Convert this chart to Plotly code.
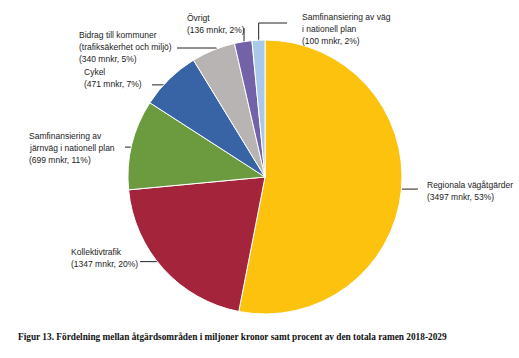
import math
import plotly.graph_objects as go

W, H = 519, 358

categories = [
    "Regionala vägåtgärder",
    "Kollektivtrafik",
    "Samfinansiering av järnväg i nationell plan",
    "Cykel",
    "Bidrag till kommuner (trafiksäkerhet och miljö)",
    "Övrigt",
    "Samfinansiering av väg i nationell plan",
]
values_mnkr = [3497, 1347, 699, 471, 340, 136, 100]
percent_labels = [53, 20, 11, 7, 5, 2, 2]
label_lines = [
    ["Regionala vägåtgärder"],
    ["Kollektivtrafik"],
    ["Samfinansiering av", "järnväg i nationell plan"],
    ["Cykel"],
    ["Bidrag till kommuner", "(trafiksäkerhet och miljö)"],
    ["Övrigt"],
    ["Samfinansiering av väg", "i nationell plan"],
]
colors = ["#FCC20E", "#A3243B", "#6C9A3E", "#3864A6", "#B8B4B4", "#7462A8", "#A9C9EA"]

cx, cy, R = 265, 177, 137

label_pos = [
    dict(x=425, y=185, path=[(418, None)]),
    dict(x=69, y=252, path=[(140, None)]),
    dict(x=27, y=136, path=[(125, None)]),
    dict(x=82, y=72, path=[(152, None)]),
    dict(x=77, y=35, path=[(None, 48), (177, 48)]),
    dict(x=185, y=18, path=[(None, 28)]),
    dict(x=300, y=17, path=[(None, 23), (287, 23)]),
]
dot_frac = [0.92, 0.92, 0.92, 0.94, 0.94, 0.96, 0.97]
LINE_H = 12

fig = go.Figure()
fig.add_trace(go.Pie(
    labels=categories,
    values=values_mnkr,
    sort=False,
    direction="clockwise",
    rotation=0,
    marker=dict(colors=colors, line=dict(color="white", width=1)),
    textinfo="none",
    hoverinfo="label+value+percent",
    showlegend=False,
    domain=dict(x=[(cx - R) / W, (cx + R) / W], y=[1 - (cy + R) / H, 1 - (cy - R) / H]),
))

total = sum(values_mnkr)
cum = 0.0
annotations = []
for i, v in enumerate(values_mnkr):
    mid = (cum + v / 2) / total
    cum += v
    ang = 2 * math.pi * mid
    r = R * dot_frac[i]
    dx = cx + r * math.sin(ang)
    dy = cy - r * math.cos(ang)
    pts = [(dx, dy)]
    px, py = dx, dy
    for (nx, ny) in label_pos[i]["path"]:
        nx = px if nx is None else nx
        ny = py if ny is None else ny
        pts.append((nx, ny))
        px, py = nx, ny
    fig.add_trace(go.Scatter(
        x=[p[0] for p in pts], y=[p[1] for p in pts], mode="lines",
        line=dict(color="#222222", width=1), hoverinfo="skip", showlegend=False,
    ))
    fig.add_trace(go.Scatter(
        x=[dx], y=[dy], mode="markers",
        marker=dict(color="black", size=5), hoverinfo="skip", showlegend=False,
    ))
    lines = label_lines[i] + [f"({values_mnkr[i]} mnkr, {percent_labels[i]}%)"]
    for k, t in enumerate(lines):
        annotations.append(dict(
            x=label_pos[i]["x"], y=label_pos[i]["y"] + k * LINE_H, xref="x", yref="y",
            text=t, showarrow=False, xanchor="left", yanchor="middle",
            font=dict(family="Liberation Sans, Arial, sans-serif", size=8.5, color="#222222"),
        ))

annotations.append(dict(
    x=16, y=337, xref="x", yref="y", xanchor="left", yanchor="middle", showarrow=False,
    text="<b>Figur 13. Fördelning mellan åtgärdsområden i miljoner kronor samt procent av den totala ramen 2018-2029</b>",
    font=dict(family="Liberation Serif, serif", size=9.3, color="#111111"),
))

fig.update_layout(
    width=W, height=H,
    margin=dict(l=0, r=0, t=0, b=0),
    paper_bgcolor="white", plot_bgcolor="rgba(0,0,0,0)",
    xaxis=dict(range=[0, W], visible=False, fixedrange=True),
    yaxis=dict(range=[H, 0], visible=False, fixedrange=True),
    annotations=annotations,
)

fig.write_html(
    "out.html",
    config={"displayModeBar": False},
    post_script="document.body.style.margin='0';document.body.style.overflow='hidden';",
)
